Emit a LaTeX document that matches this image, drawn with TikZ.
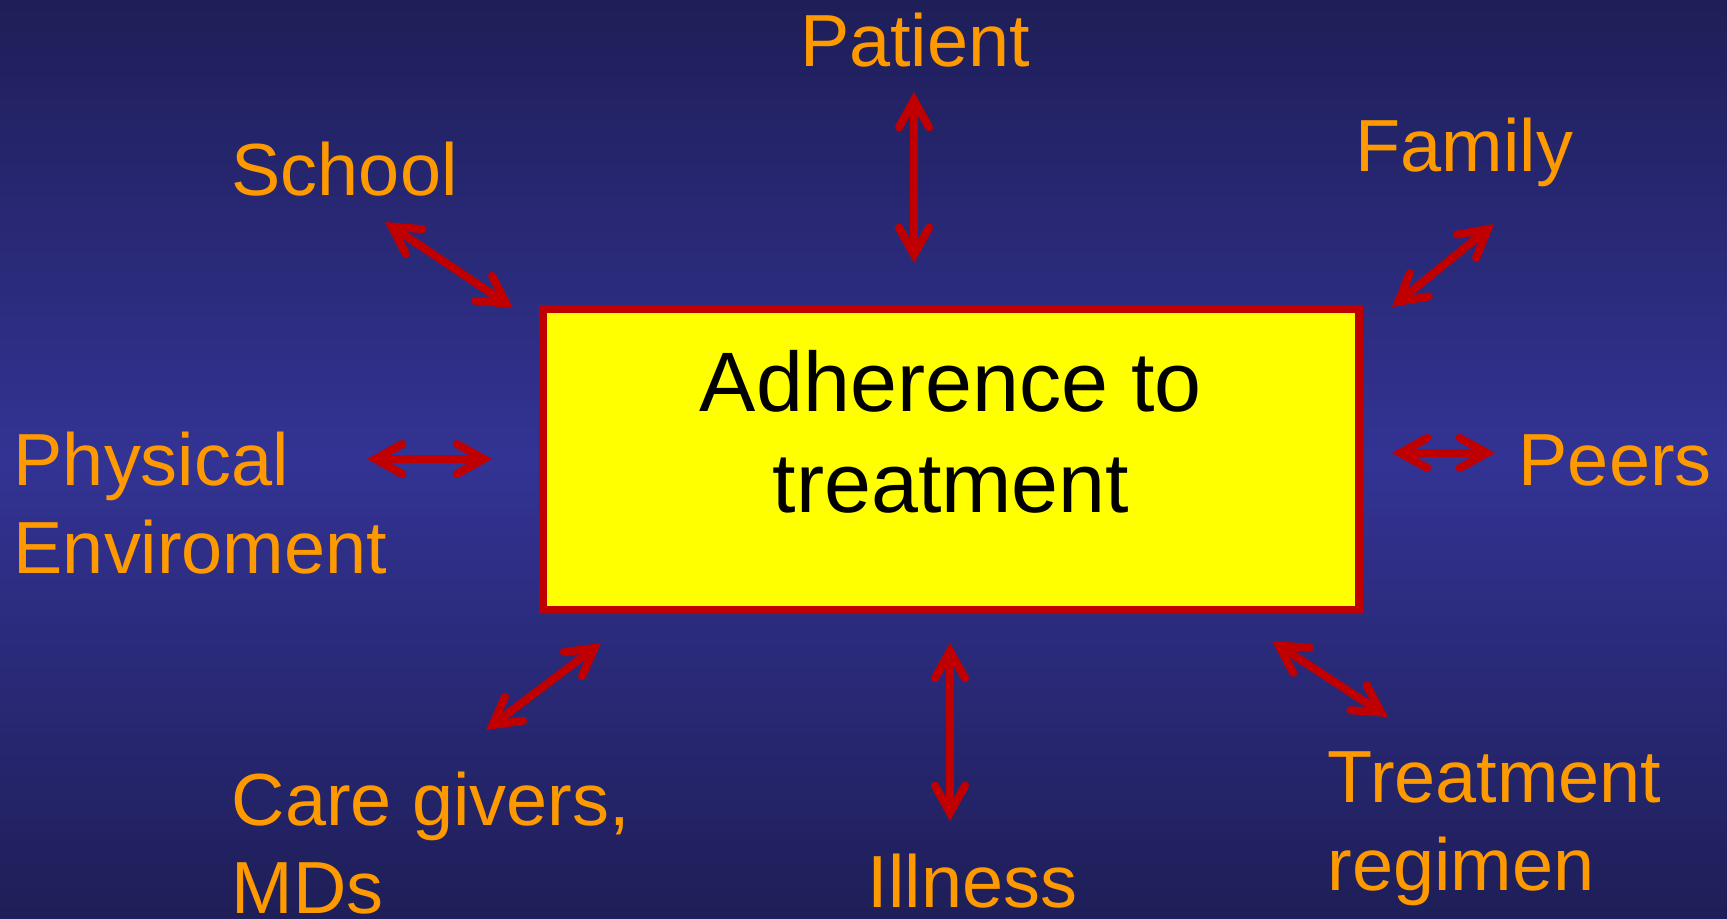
\documentclass[tikz,border=0pt]{standalone}
\usepackage{fontspec}
\setmainfont{Liberation Sans}
\usetikzlibrary{
  arrows.meta,
  positioning
}
\definecolor{bgdark}{RGB}{30,30,88}
\definecolor{bgmid}{RGB}{51,51,148}
\definecolor{boxred}{RGB}{192,0,0}
\definecolor{boxyellow}{RGB}{255,255,0}
\definecolor{lblorange}{RGB}{255,153,0}

\begin{document}
\begin{tikzpicture}[x=0.01cm,y=-0.01cm,every text node part/.style={align=left},
  lbl/.style={rectangle,inner sep=0pt,text=lblorange,font=\fontsize{21}{25}\selectfont},
  link/.style={draw=boxred,line width=0.08cm,{Straight Barb[length=0.27cm,width=0.3cm,line cap=round]}-{Straight Barb[length=0.27cm,width=0.3cm,line cap=round]}}]
  \shade[top color=bgdark,bottom color=bgdark,middle color=bgmid] (0,0) rectangle (1727,918);
  \useasboundingbox (0,0) rectangle (1727,918);
  \node[rectangle,draw=boxred,line width=0.08cm,fill=boxyellow,minimum width=8.16cm,minimum height=3.01cm,inner sep=0pt] (0) at (951,459.5) {};
  \node[rectangle,inner sep=0pt,every text node part/.style={align=center},font=\fontsize{24}{28.7}\selectfont] (1) at (951,432) {Adherence to\\treatment};
  % labels (multi-line ones sit on their last line)
  \node[lbl,anchor=base] (2) at (915,66) {Patient};
  \node[lbl,anchor=base west] (3) at (231,195) {School};
  \node[lbl,anchor=base west] (4) at (1355,171) {Family};
  \node[lbl,anchor=base west] (5) at (13,573) {Physical\\Enviroment};
  \node[lbl,anchor=base west] (6) at (1518,485) {Peers};
  \node[lbl,anchor=base west] (7) at (231,913) {Care givers,\\MDs};
  \node[lbl,anchor=base west] (8) at (867,907) {Illness};
  \node[lbl,anchor=base west] (9) at (1327,890) {Treatment\\regimen};
  % arrow ends
  \coordinate (2a) at (914,92);   \coordinate (2b) at (914,263);
  \coordinate (3a) at (385,222);  \coordinate (3b) at (513,308);
  \coordinate (4a) at (1494,224); \coordinate (4b) at (1392,307);
  \coordinate (5a) at (367,459);  \coordinate (5b) at (492,459);
  \coordinate (6a) at (1495,453); \coordinate (6b) at (1392,453);
  \coordinate (7a) at (486,730);  \coordinate (7b) at (601,643);
  \coordinate (8a) at (950,821);  \coordinate (8b) at (950,643);
  \coordinate (9a) at (1388,717); \coordinate (9b) at (1272,641);
  \draw[link] (2a) -- (2b);
  \draw[link] (3a) -- (3b);
  \draw[link] (4a) -- (4b);
  \draw[link] (5a) -- (5b);
  \draw[link] (6a) -- (6b);
  \draw[link] (7a) -- (7b);
  \draw[link] (8a) -- (8b);
  \draw[link] (9a) -- (9b);
\end{tikzpicture}
\end{document}
